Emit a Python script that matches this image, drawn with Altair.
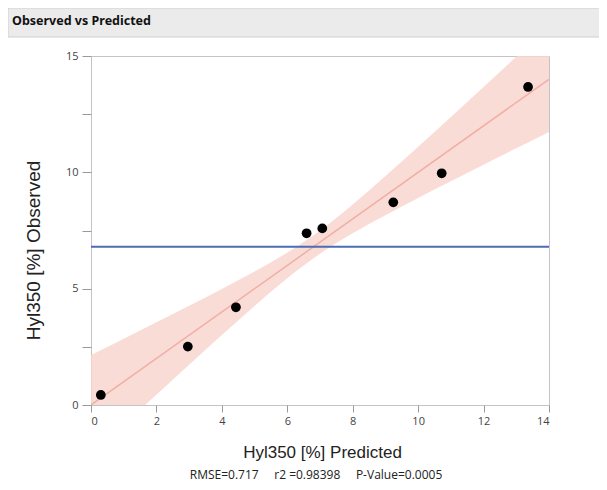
import altair as alt
import pandas as pd

# Observed vs predicted points
pred = [0.3, 2.96, 4.43, 6.59, 7.07, 9.24, 10.72, 13.36]
obs = [0.43, 2.51, 4.2, 7.38, 7.59, 8.71, 9.96, 13.67]

# Confidence band
band_x = [0, 1, 2, 3, 4, 5, 6, 7, 8, 9, 10, 11, 12, 13, 14]
band_lo = [-2.15, -0.85, 0.44, 1.73, 3.01, 4.26, 5.45, 6.50, 7.38, 8.16, 8.90, 9.62, 10.33, 11.03, 11.73]
band_hi = [2.15, 2.85, 3.56, 4.27, 4.99, 5.74, 6.55, 7.50, 8.62, 9.84, 11.10, 12.38, 13.67, 14.97, 16.27]

fit_x = [0, 14]
fit_y = [0, 14]
mean_obs = 6.8

header_title = "Observed vs Predicted"
NB = "\u00a0"
footnote = "RMSE=0.717" + NB * 5 + "r2 =0.98398" + NB * 5 + "P-Value=0.0005"
x_title = "Hyl350 [%] Predicted"
y_title = "Hyl350 [%] Observed"
y_ticks = [0, 2.5, 5, 7.5, 10, 12.5, 15]
x_ticks = [0, 2, 4, 6, 8, 10, 12, 14]

pts = pd.DataFrame({"pred": pred, "obs": obs})
band = pd.DataFrame({"x": band_x, "lo": band_lo, "hi": band_hi})
fit = pd.DataFrame({"x": fit_x, "y": fit_y})
one = pd.DataFrame({"v": [0]})

xs = alt.Scale(domain=[0, 14], nice=False, zero=False)
ys = alt.Scale(domain=[0, 15], nice=False, zero=False)

x_axis = alt.Axis(
    values=x_ticks, title=x_title, grid=False, domain=False,
    tickSize=7, tickColor="#9a9a9a", labelPadding=3,
    labelFont="Open Sans", labelFontSize=11, labelColor="#444444",
    titleFont="Liberation Sans", titleFontSize=17, titleFontWeight="normal",
    titleColor="#222222", titleX=231, titleY=47, titleBaseline="middle",
)
y_axis = alt.Axis(
    values=y_ticks, title=y_title, grid=False, domain=False,
    tickSize=9, tickColor="#9a9a9a", labelPadding=4,
    labelExpr="datum.value % 5 == 0 ? datum.label : ''",
    labelFont="Open Sans", labelFontSize=11, labelColor="#444444",
    titleFont="Liberation Sans", titleFontSize=19, titleFontWeight="normal",
    titleColor="#222222", titleX=-58, titleY=194, titleBaseline="middle",
    titleAngle=270,
)

header_rect = alt.Chart(one).mark_rect(
    fill="#ebebeb", stroke="#cfcfcf", strokeWidth=1
).encode(x=alt.value(-83), x2=alt.value(520), y=alt.value(-48), y2=alt.value(-19))

header_text = alt.Chart(one).mark_text(
    text=header_title, font="Noto Sans", fontWeight="bold", fontSize=12.5,
    align="left", baseline="middle", color="#111111"
).encode(x=alt.value(-79), y=alt.value(-35))

area = alt.Chart(band).mark_area(
    color="#f9d6cf", opacity=0.85, clip=True, interpolate="monotone"
).encode(
    x=alt.X("x:Q", scale=xs, axis=x_axis),
    y=alt.Y("lo:Q", scale=ys, axis=y_axis),
    y2="hi:Q",
)

fit_line = alt.Chart(fit).mark_line(color="#f1aea6", strokeWidth=1.5, clip=True).encode(
    x=alt.X("x:Q", scale=xs), y=alt.Y("y:Q", scale=ys)
)

mean_rule = alt.Chart(pd.DataFrame({"m": [mean_obs]})).mark_rule(
    color="#4a6db3", strokeWidth=2
).encode(y=alt.Y("m:Q", scale=ys))

points = alt.Chart(pts).mark_circle(color="#000000", opacity=1, size=95).encode(
    x=alt.X("pred:Q", scale=xs), y=alt.Y("obs:Q", scale=ys)
)

foot = alt.Chart(one).mark_text(
    text=footnote, font="Open Sans", fontSize=12, align="center",
    baseline="middle", color="#222222"
).encode(x=alt.value(225), y=alt.value(419))

chart = alt.layer(
    header_rect, header_text, area, fit_line, mean_rule, points, foot
).properties(
    width=458, height=349,
    autosize=alt.AutoSizeParams(type="none"),
    padding={"left": 83, "top": 48, "right": 50, "bottom": 77},
).configure_view(stroke="#c4c4c4", strokeWidth=1)

chart.save("out.html", embed_options={"renderer": "svg", "actions": False})
